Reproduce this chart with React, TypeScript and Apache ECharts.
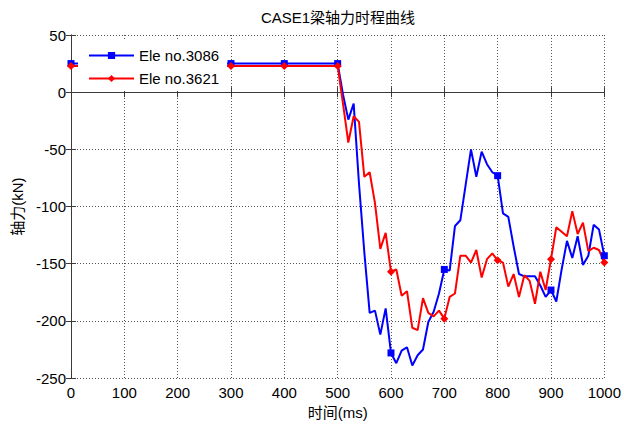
import React, { useEffect, useRef } from "react";
import * as echarts from "echarts";

const times = [
  0, 10, 20, 30, 40, 50, 60, 70, 80, 90,
  100, 110, 120, 130, 140, 150, 160, 170, 180, 190,
  200, 210, 220, 230, 240, 250, 260, 270, 280, 290,
  300, 310, 320, 330, 340, 350, 360, 370, 380, 390,
  400, 410, 420, 430, 440, 450, 460, 470, 480, 490,
  500, 510, 520, 530, 540, 550, 560, 570, 580, 590,
  600, 610, 620, 630, 640, 650, 660, 670, 680, 690,
  700, 710, 720, 730, 740, 750, 760, 770, 780, 790,
  800, 810, 820, 830, 840, 850, 860, 870, 880, 890,
  900, 910, 920, 930, 940, 950, 960, 970, 980, 990,
  1000,
];

const ele3086 = [
  25, 25, 25, 25, 25, 25, 25, 25, 25, 25,
  25, 25, 25, 25, 25, 25, 25, 25, 25, 25,
  25, 25, 25, 25, 25, 25, 25, 25, 25, 25,
  25, 25, 25, 25, 25, 25, 25, 25, 25, 25,
  25, 25, 25, 25, 25, 25, 25, 25, 25, 25,
  25, -2, -24, -10, -80, -140, -193, -191, -212, -189,
  -228, -237, -226, -223, -239, -230, -225, -201, -192, -176,
  -155, -156, -117, -112, -81, -50, -74, -52, -63, -70,
  -73, -106, -109, -135, -159, -161, -161, -161, -169, -179,
  -173, -183, -155, -130, -145, -126, -151, -143, -116, -120,
  -143,
];

const ele3621 = [
  23, 23, 23, 23, 23, 23, 23, 23, 23, 23,
  23, 23, 23, 23, 23, 23, 23, 23, 23, 23,
  23, 23, 23, 23, 23, 23, 23, 23, 23, 23,
  23, 23, 23, 23, 23, 23, 23, 23, 23, 23,
  23, 23, 23, 23, 23, 23, 23, 23, 23, 23,
  23, -10, -44, -21, -26, -74, -70, -97, -137, -123,
  -157, -155, -178, -174, -206, -208, -180, -193, -196, -191,
  -198, -179, -176, -143, -143, -149, -138, -162, -146, -141,
  -147, -149, -170, -159, -179, -160, -165, -185, -157, -173,
  -146, -118, -122, -126, -104, -124, -114, -139, -136, -138,
  -149,
];

const seriesNames = ["Ele no.3086", "Ele no.3621"];
const xTicks = { min: 0, max: 1000, interval: 100 };
const yTicks = { min: -250, max: 50, interval: 50 };
const titleText = "CASE1梁轴力时程曲线";
const xName = "时间(ms)";
const yName = "轴力(kN)";

const FONT = "'Liberation Sans', 'Noto Sans CJK SC', Arial, sans-serif";
const AXIS_COLOR = "#3a3a3a";

export default function App() {
  const ref = useRef<HTMLDivElement>(null);

  useEffect(() => {
    if (!ref.current) return;
    const chart = echarts.init(ref.current, undefined, { renderer: "svg" });

    const build = (vals: number[], sym: string) =>
      times.map((t, i) => ({
        value: [t, vals[i]],
        symbol: i % 10 === 0 ? sym : "none",
      }));

    const tickCommon = {
      show: true,
      inside: true,
      length: 5,
      lineStyle: { color: AXIS_COLOR, width: 1 },
    };
    const lineCommon = { show: true, lineStyle: { color: AXIS_COLOR, width: 1 } };
    const splitCommon = {
      show: true,
      lineStyle: { color: "#555", width: 1, type: [1, 2] as any },
    };
    const plainNum = (v: number) => String(v);

    chart.setOption({
      animation: false,
      backgroundColor: "#fff",
      title: {
        text: titleText,
        left: 338,
        textAlign: "center",
        top: 10,
        padding: 0,
        textStyle: { fontFamily: FONT, fontSize: 15, fontWeight: "normal", color: "#000" },
      },
      legend: {
        orient: "vertical",
        left: 78,
        top: 41,
        padding: [7, 8, 5, 10],
        itemGap: 8,
        itemWidth: 45,
        itemHeight: 9,
        backgroundColor: "#fff",
        textStyle: { fontFamily: FONT, fontSize: 15, color: "#000" },
        data: seriesNames,
      },
      grid: { left: 71, right: 16, top: 35, bottom: 42 },
      xAxis: [
        {
          type: "value",
          position: "bottom",
          ...xTicks,
          name: xName,
          nameLocation: "middle",
          nameGap: 24,
          nameTextStyle: { fontFamily: FONT, fontSize: 15, color: "#000" },
          axisLine: lineCommon,
          axisTick: tickCommon,
          axisLabel: { fontFamily: FONT, fontSize: 15, color: "#000", margin: 7, formatter: plainNum },
          splitLine: splitCommon,
        },
        {
          type: "value",
          position: "top",
          ...xTicks,
          axisLine: lineCommon,
          axisTick: tickCommon,
          axisLabel: { show: false },
          splitLine: { show: false },
        },
      ],
      yAxis: [
        {
          type: "value",
          position: "left",
          ...yTicks,
          name: yName,
          nameLocation: "middle",
          nameGap: 45,
          nameTextStyle: { fontFamily: FONT, fontSize: 15, color: "#000" },
          axisLine: lineCommon,
          axisTick: tickCommon,
          axisLabel: { fontFamily: FONT, fontSize: 15, color: "#000", margin: 5, formatter: plainNum },
          splitLine: splitCommon,
        },
        {
          type: "value",
          position: "right",
          ...yTicks,
          axisLine: lineCommon,
          axisTick: tickCommon,
          axisLabel: { show: false },
          splitLine: { show: false },
        },
      ],
      series: [
        {
          name: seriesNames[0],
          type: "line",
          xAxisIndex: 0,
          yAxisIndex: 0,
          data: build(ele3086, "rect"),
          symbol: "rect",
          symbolSize: 7,
          showAllSymbol: true,
          lineStyle: { color: "#0000ff", width: 2 },
          itemStyle: { color: "#0000ff" },
          z: 3,
        },
        {
          name: seriesNames[1],
          type: "line",
          xAxisIndex: 0,
          yAxisIndex: 0,
          data: build(ele3621, "diamond"),
          symbol: "diamond",
          symbolSize: 8,
          showAllSymbol: true,
          lineStyle: { color: "#ff0000", width: 2 },
          itemStyle: { color: "#ff0000" },
          z: 3,
        },
      ],
    });

    return () => chart.dispose();
  }, []);

  return (
    <div
      ref={ref}
      style={{ position: "absolute", left: 0, top: 0, width: 624, height: 425 }}
    />
  );
}
